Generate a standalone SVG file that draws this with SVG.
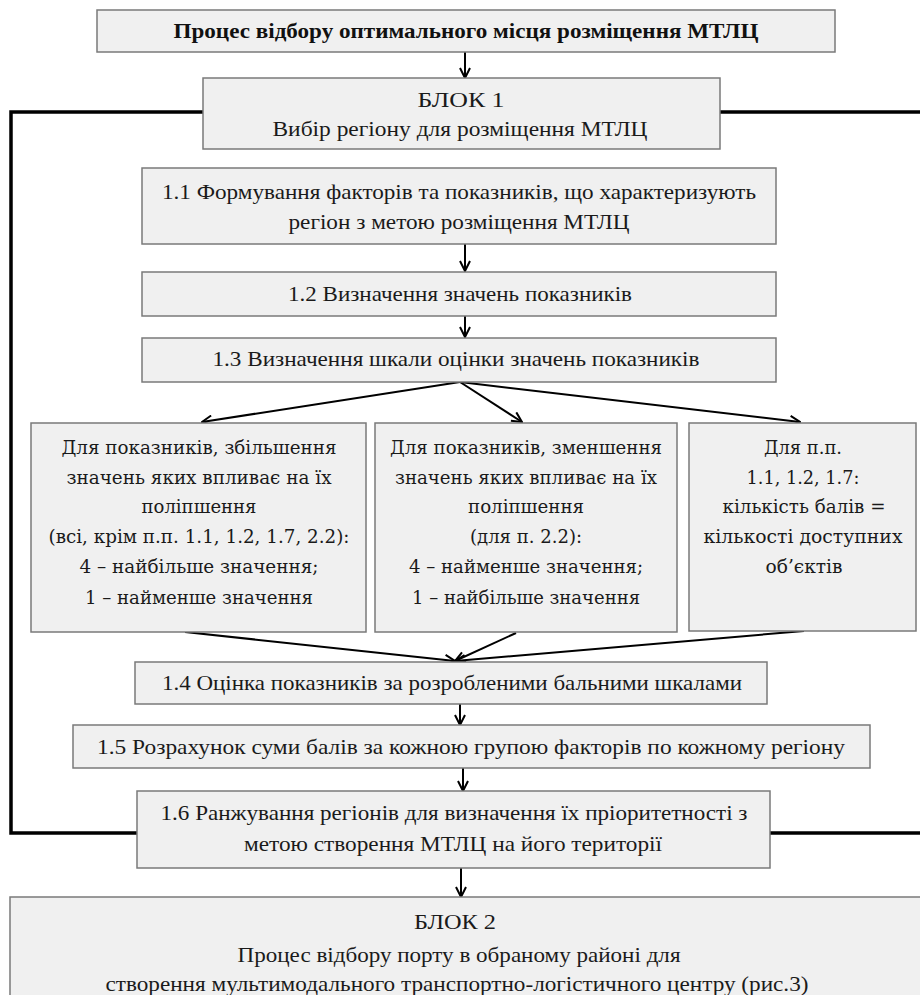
<svg xmlns="http://www.w3.org/2000/svg" width="920" height="995" viewBox="0 0 920 995">
<defs>
<marker id="ah" viewBox="0 0 12 12" refX="11" refY="6" markerWidth="12" markerHeight="12" markerUnits="userSpaceOnUse" orient="auto">
<path d="M1,1 L11,6 L1,11" fill="none" stroke="#000" stroke-width="2"/>
</marker>
<style>
.box{fill:#f0f0f0;stroke:#7a7a7a;stroke-width:1.5}
.t{font-family:"Liberation Serif","Times New Roman",serif;font-size:22px;fill:#1a1a1a;text-anchor:middle}
.tb{font-family:"Liberation Serif","Times New Roman",serif;font-size:21px;font-weight:bold;fill:#111;text-anchor:middle}
.w{font-family:"DejaVu Serif","Liberation Serif",serif;font-size:19px;fill:#1a1a1a;text-anchor:middle}
.ar{stroke:#000;stroke-width:2;fill:none;marker-end:url(#ah)}
.loop{stroke:#000;stroke-width:3.5;fill:none}
</style>
</defs>
<rect width="920" height="995" fill="#fff"/>

<g id="connectors">
<polyline class="loop" points="203,112 11,112 11,833 137,833"/>
<line class="loop" x1="720" y1="112" x2="920" y2="112"/>
<line class="loop" x1="770" y1="833" x2="920" y2="833"/>
<line class="ar" x1="465" y1="52" x2="465" y2="78"/>
<line class="ar" x1="465" y1="244" x2="465" y2="271"/>
<line class="ar" x1="465" y1="316" x2="465" y2="337"/>
<line class="ar" x1="460" y1="382" x2="202" y2="422"/>
<line class="ar" x1="460" y1="382" x2="522" y2="422"/>
<line class="ar" x1="460" y1="382" x2="800" y2="422"/>
<line class="ar" x1="185" y1="632" x2="455" y2="661"/>
<line class="ar" x1="516" y1="633" x2="455" y2="661"/>
<line class="ar" x1="804" y1="631" x2="455" y2="661"/>
<line class="ar" x1="460" y1="704" x2="460" y2="725"/>
<line class="ar" x1="463" y1="768" x2="463" y2="791"/>
<line class="ar" x1="461" y1="868" x2="461" y2="897"/>
</g>

<g id="title">
<rect class="box" x="97" y="10" width="738" height="42"/>
<text class="tb" x="466" y="38" textLength="585" lengthAdjust="spacingAndGlyphs">Процес відбору оптимального місця розміщення МТЛЦ</text>
</g>

<g id="block1">
<rect class="box" x="203" y="78" width="517" height="71"/>
<text class="t" x="461" y="107" textLength="87" lengthAdjust="spacingAndGlyphs">БЛОК 1</text>
<text class="t" x="460" y="136" textLength="375" lengthAdjust="spacingAndGlyphs">Вибір регіону для розміщення МТЛЦ</text>
</g>

<g id="n1_1">
<rect class="box" x="142" y="168" width="634" height="76"/>
<text class="t" x="459" y="199" textLength="594" lengthAdjust="spacingAndGlyphs">1.1 Формування факторів та показників, що характеризують</text>
<text class="t" x="459" y="229" textLength="341" lengthAdjust="spacingAndGlyphs">регіон з метою розміщення МТЛЦ</text>
</g>

<g id="n1_2">
<rect class="box" x="142" y="272" width="634" height="44"/>
<text class="t" x="460" y="301" textLength="344" lengthAdjust="spacingAndGlyphs">1.2 Визначення значень показників</text>
</g>

<g id="n1_3">
<rect class="box" x="142" y="338" width="634" height="44"/>
<text class="t" x="456" y="366" textLength="487" lengthAdjust="spacingAndGlyphs">1.3 Визначення шкали оцінки значень показників</text>
</g>

<g id="boxA">
<rect class="box" x="31" y="423" width="335" height="209"/>
<text class="w" x="199" y="454" textLength="275" lengthAdjust="spacingAndGlyphs">Для показників, збільшення</text>
<text class="w" x="199" y="484" textLength="265" lengthAdjust="spacingAndGlyphs">значень яких впливає на їх</text>
<text class="w" x="199" y="513" textLength="115" lengthAdjust="spacingAndGlyphs">поліпшення</text>
<text class="w" x="199" y="543" textLength="301" lengthAdjust="spacingAndGlyphs">(всі, крім п.п. 1.1, 1.2, 1.7, 2.2):</text>
<text class="w" x="199" y="573" textLength="239" lengthAdjust="spacingAndGlyphs">4 – найбільше значення;</text>
<text class="w" x="199" y="604" textLength="228" lengthAdjust="spacingAndGlyphs">1 – найменше значення</text>
</g>

<g id="boxB">
<rect class="box" x="375" y="423" width="302" height="209"/>
<text class="w" x="526" y="454" textLength="272" lengthAdjust="spacingAndGlyphs">Для показників, зменшення</text>
<text class="w" x="526" y="484" textLength="262" lengthAdjust="spacingAndGlyphs">значень яких впливає на їх</text>
<text class="w" x="526" y="513" textLength="116" lengthAdjust="spacingAndGlyphs">поліпшення</text>
<text class="w" x="526" y="543" textLength="112" lengthAdjust="spacingAndGlyphs">(для п. 2.2):</text>
<text class="w" x="526" y="573" textLength="234" lengthAdjust="spacingAndGlyphs">4 – найменше значення;</text>
<text class="w" x="526" y="604" textLength="228" lengthAdjust="spacingAndGlyphs">1 – найбільше значення</text>
</g>

<g id="boxC">
<rect class="box" x="689" y="423" width="227" height="208"/>
<text class="w" x="803" y="454" textLength="78" lengthAdjust="spacingAndGlyphs">Для п.п.</text>
<text class="w" x="803" y="484" textLength="113" lengthAdjust="spacingAndGlyphs">1.1, 1.2, 1.7:</text>
<text class="w" x="804" y="513" textLength="163" lengthAdjust="spacingAndGlyphs">кількість балів =</text>
<text class="w" x="803" y="543" textLength="199" lengthAdjust="spacingAndGlyphs">кількості доступних</text>
<text class="w" x="804" y="573" textLength="77" lengthAdjust="spacingAndGlyphs">об’єктів</text>
</g>

<g id="n1_4">
<rect class="box" x="135" y="662" width="632" height="42"/>
<text class="t" x="452" y="690" textLength="580" lengthAdjust="spacingAndGlyphs">1.4 Оцінка показників за розробленими бальними шкалами</text>
</g>

<g id="n1_5">
<rect class="box" x="73" y="725" width="797" height="43"/>
<text class="t" x="471" y="754" textLength="748" lengthAdjust="spacingAndGlyphs">1.5 Розрахунок суми балів за кожною групою факторів по кожному регіону</text>
</g>

<g id="n1_6">
<rect class="box" x="137" y="791" width="633" height="77"/>
<text class="t" x="454" y="820" textLength="587" lengthAdjust="spacingAndGlyphs">1.6 Ранжування регіонів для визначення їх пріоритетності з</text>
<text class="t" x="453" y="851" textLength="418" lengthAdjust="spacingAndGlyphs">метою створення МТЛЦ на його території</text>
</g>

<g id="block2">
<rect class="box" x="10" y="897" width="920" height="110"/>
<text class="t" x="455" y="929" textLength="82" lengthAdjust="spacingAndGlyphs">БЛОК 2</text>
<text class="t" x="459" y="962" textLength="443" lengthAdjust="spacingAndGlyphs">Процес відбору порту в обраному районі для</text>
<text class="t" x="457" y="991" textLength="703" lengthAdjust="spacingAndGlyphs">створення мультимодального транспортно-логістичного центру (рис.3)</text>
</g>
</svg>
